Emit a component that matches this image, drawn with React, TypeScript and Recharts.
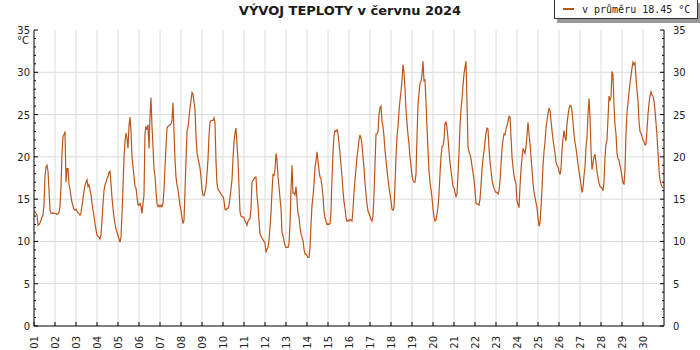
import React from 'react';
import { LineChart, Line, XAxis, YAxis, CartesianGrid, Legend } from 'recharts';

// Temperature readings per day (evenly spaced through each day), °C
const day01 = [13.5, 13.5, 13.3, 13.1, 11.9, 12.0, 12.2, 12.5, 12.9, 13.1, 14.3, 17.7, 18.8, 19.0, 18.3, 16.1, 13.7, 13.3, 13.3, 13.4, 13.3];
const day02 = [13.3, 13.3, 13.2, 13.3, 13.4, 14.2, 16.5, 20.4, 22.4, 22.6, 23.0, 17.0, 18.6, 18.6, 16.7, 16.2, 15.3, 14.6, 14.2, 13.8, 13.7];
const day03 = [13.8, 13.6, 13.4, 13.3, 13.1, 13.4, 14.2, 15.1, 15.9, 16.6, 17.0, 17.3, 16.5, 16.7, 16.1, 15.5, 14.5, 13.7, 13.0, 12.1, 11.4];
const day04 = [10.7, 10.6, 10.5, 10.3, 10.8, 12.5, 14.4, 16.0, 16.7, 17.0, 17.4, 17.7, 18.2, 18.3, 16.8, 15.2, 13.9, 12.8, 12.1, 11.5, 11.1];
const day05 = [10.7, 10.3, 9.9, 10.5, 13.3, 16.5, 19.8, 21.8, 22.8, 22.2, 21.0, 23.6, 24.7, 23.0, 20.0, 18.8, 17.7, 16.5, 16.3, 15.3, 14.3];
const day06 = [14.3, 14.5, 14.1, 13.3, 14.5, 15.5, 22.8, 23.6, 23.2, 23.8, 21.0, 24.8, 27.0, 23.6, 21.2, 18.5, 17.7, 16.0, 14.4, 14.1, 14.3];
const day07 = [14.1, 14.3, 14.1, 14.5, 16.1, 18.8, 21.2, 23.4, 23.6, 23.7, 23.8, 23.9, 24.3, 26.4, 23.0, 19.6, 17.6, 16.7, 16.1, 15.2, 14.2];
const day08 = [13.7, 12.8, 12.1, 12.5, 16.0, 19.6, 23.0, 23.5, 24.6, 25.8, 26.6, 27.6, 27.4, 26.5, 25.5, 22.5, 20.5, 19.8, 19.3, 18.7, 17.6];
const day09 = [16.2, 15.5, 15.4, 15.8, 16.5, 18.0, 19.7, 22.5, 24.1, 24.3, 24.3, 24.3, 24.6, 24.0, 19.5, 16.8, 16.2, 16.0, 15.8, 15.6, 15.4];
const day10 = [15.3, 14.8, 13.8, 13.7, 13.9, 13.9, 14.3, 15.2, 16.2, 17.3, 19.8, 21.8, 22.8, 23.4, 21.5, 19.6, 16.5, 13.5, 13.0, 12.9, 12.9];
const day11 = [12.8, 12.4, 12.2, 11.9, 12.4, 12.6, 12.7, 13.9, 17.0, 17.2, 17.4, 17.6, 17.6, 15.4, 14.3, 12.4, 10.9, 10.6, 10.4, 10.2, 10.0];
const day12 = [9.8, 8.7, 9.1, 9.3, 10.1, 11.7, 13.3, 15.9, 17.9, 17.8, 18.5, 20.4, 19.6, 17.7, 16.5, 15.1, 13.9, 11.1, 10.7, 10.1, 9.5];
const day13 = [9.3, 9.3, 9.3, 9.7, 12.1, 16.1, 19.0, 15.7, 15.7, 15.5, 16.5, 14.9, 13.3, 12.9, 11.7, 10.9, 10.5, 10.1, 9.1, 8.5, 8.5];
const day14 = [8.3, 8.1, 8.1, 9.3, 12.0, 14.3, 15.3, 16.8, 18.7, 19.5, 20.6, 19.5, 18.4, 17.6, 17.4, 16.5, 15.4, 13.5, 12.8, 12.4, 12.0];
const day15 = [12.1, 12.0, 12.1, 13.5, 17.5, 20.5, 22.5, 23.1, 23.0, 23.2, 22.8, 21.6, 20.4, 19.0, 17.7, 16.0, 14.7, 13.9, 12.8, 12.4, 12.5];
const day16 = [12.4, 12.6, 12.5, 12.4, 13.8, 15.8, 17.3, 18.6, 20.0, 20.9, 22.0, 22.6, 22.2, 21.4, 20.0, 18.7, 16.9, 15.6, 14.4, 13.6, 13.3];
const day17 = [13.0, 12.6, 12.4, 13.0, 15.5, 19.2, 22.7, 22.7, 23.0, 25.0, 25.8, 26.0, 24.2, 23.6, 22.4, 20.8, 19.6, 18.4, 17.4, 16.4, 15.6];
const day18 = [14.8, 13.8, 13.7, 14.0, 16.8, 20.0, 22.4, 23.6, 25.4, 26.7, 27.7, 29.1, 30.9, 30.0, 28.0, 25.6, 24.0, 22.6, 21.5, 20.0, 18.9];
const day19 = [17.8, 17.2, 17.0, 17.0, 18.0, 22.4, 26.2, 27.5, 28.7, 28.9, 29.7, 31.3, 29.0, 29.1, 26.5, 23.5, 20.8, 18.3, 17.0, 16.1, 15.2];
const day20 = [13.8, 12.9, 12.4, 12.5, 13.2, 14.1, 15.6, 18.0, 20.0, 21.2, 21.3, 22.0, 24.0, 24.1, 23.4, 22.2, 20.7, 19.3, 18.4, 17.4, 16.5];
const day21 = [16.3, 15.8, 15.3, 15.6, 17.9, 20.4, 23.6, 25.6, 26.8, 28.4, 29.8, 30.6, 31.3, 26.5, 21.2, 20.6, 20.3, 19.8, 18.9, 18.1, 17.3];
const day22 = [16.0, 14.5, 14.4, 14.4, 14.3, 15.0, 16.6, 18.5, 19.8, 20.6, 21.8, 22.8, 23.4, 23.3, 21.0, 19.5, 18.4, 17.3, 16.7, 16.3, 16.0];
const day23 = [15.8, 15.8, 15.6, 16.0, 17.2, 19.0, 21.0, 22.0, 22.7, 22.6, 23.3, 23.7, 24.2, 24.8, 24.7, 22.4, 20.0, 18.8, 17.8, 17.2, 16.8];
const day24 = [14.8, 14.4, 14.0, 16.5, 18.5, 19.8, 21.0, 20.7, 20.4, 21.2, 22.5, 24.1, 22.7, 21.6, 20.0, 18.5, 16.9, 15.8, 15.2, 14.6, 14.0];
const day25 = [12.8, 11.8, 12.2, 14.0, 16.2, 19.0, 20.6, 21.7, 23.5, 24.3, 25.1, 25.7, 25.5, 24.3, 23.1, 22.1, 21.2, 20.4, 19.4, 19.0, 18.8];
const day26 = [18.3, 17.9, 18.6, 20.8, 22.1, 23.1, 22.4, 21.9, 23.9, 24.9, 25.7, 26.1, 26.0, 25.4, 24.1, 22.7, 21.7, 21.0, 20.1, 19.1, 18.3];
const day27 = [17.5, 16.7, 15.8, 16.4, 17.8, 18.8, 21.2, 22.3, 25.0, 26.9, 24.8, 20.8, 18.5, 19.2, 20.0, 20.3, 19.3, 18.3, 17.5, 16.9, 16.5];
const day28 = [16.4, 16.3, 16.0, 17.0, 20.0, 21.5, 22.0, 24.5, 27.2, 26.7, 27.0, 30.1, 29.7, 26.2, 23.7, 22.7, 20.4, 19.8, 19.6, 19.0, 18.4];
const day29 = [17.6, 16.9, 16.8, 18.5, 22.8, 25.2, 26.4, 27.6, 28.7, 29.6, 30.5, 31.2, 30.9, 31.1, 29.3, 27.9, 26.7, 24.2, 23.0, 22.8, 22.4];
const day30 = [22.0, 21.8, 21.4, 21.5, 23.2, 25.0, 26.3, 27.2, 27.7, 27.3, 27.2, 26.6, 25.5, 24.0, 22.5, 20.5, 18.4, 17.3, 16.8, 16.5, 16.3];

const days = [
  day01, day02, day03, day04, day05, day06, day07, day08, day09, day10,
  day11, day12, day13, day14, day15, day16, day17, day18, day19, day20,
  day21, day22, day23, day24, day25, day26, day27, day28, day29, day30,
];

const dayLabels = ['01', '02', '03', '04', '05', '06', '07', '08', '09', '10', '11', '12', '13', '14', '15', '16', '17', '18', '19', '20', '21', '22', '23', '24', '25', '26', '27', '28', '29', '30'];
const yTicks = [0, 1, 2, 3, 4, 5, 6, 7, 8, 9, 10, 11, 12, 13, 14, 15, 16, 17, 18, 19, 20, 21, 22, 23, 24, 25, 26, 27, 28, 29, 30, 31, 32, 33, 34, 35];
const yGrid = [5, 10, 15, 20, 25, 30];
const yMax = 35;
const labelStep = 5;
const unit = '°C';
const avgTemp = 18.45;
const title = 'VÝVOJ TEPLOTY v červnu 2024';

const data = days.flatMap((vals, d) => vals.map((v, k) => ({ t: d + k / vals.length, temp: v })));
const xTicks = dayLabels.map((_, i) => i);
const xGrid = dayLabels.map((_, i) => i).filter((i) => i > 0);

const LINE_COLOR = '#bd5519';
const FONT = '"DejaVu Sans", Verdana, sans-serif';

const XTick = (props: any) => {
  const { x, y, payload } = props;
  const label = dayLabels[payload.value];
  return (
    <g>
      <line x1={x} y1={y} x2={x} y2={y - 4} stroke="#000" />
      <text
        transform={`translate(${x + 3.5},${y + 10}) rotate(-90)`}
        textAnchor="end"
        fontSize={10}
        fontFamily={FONT}
        fill="#222"
      >
        {label}
      </text>
    </g>
  );
};

const YTick = (props: any) => {
  const { x, y, payload, side } = props;
  const v = payload.value;
  const major = v % labelStep === 0;
  const len = major ? 4 : 2;
  const dir = side === 'left' ? 1 : -1;
  return (
    <g>
      <line x1={x} y1={y} x2={x + dir * len} y2={y} stroke="#000" />
      {major && (
        <text
          x={side === 'left' ? x - 4 : x + 9}
          y={y + 4}
          textAnchor={side === 'left' ? 'end' : 'start'}
          fontSize={10}
          fontFamily={FONT}
          fill="#222"
        >
          {v}
        </text>
      )}
      {side === 'left' && v === yMax && (
        <text x={x - 5} y={y + 14} textAnchor="end" fontSize={10} fontFamily={FONT} fill="#222">
          {unit}
        </text>
      )}
    </g>
  );
};

const LegendBox = (props: any) => {
  const item = props.payload && props.payload[0];
  return (
    <div
      style={{
        width: 144,
        height: 20,
        boxSizing: 'border-box',
        border: '1px solid #333',
        background: '#fff',
        boxShadow: '3px 4px 0 #999',
        display: 'flex',
        alignItems: 'center',
        font: '10px "DejaVu Sans Mono", monospace',
        color: '#222',
        whiteSpace: 'nowrap',
      }}
    >
      <span style={{ display: 'inline-block', width: 11, height: 2, background: item ? item.color : LINE_COLOR, marginLeft: 8, marginRight: 8 }} />
      <span>{item ? item.value : ''}</span>
    </div>
  );
};

export default function App() {
  return (
    <div style={{ position: 'absolute', left: 0, top: 0, width: 700, height: 350, background: '#fff' }}>
      <div
        style={{
          position: 'absolute',
          left: 0,
          top: 3,
          width: 700,
          textAlign: 'center',
          font: `bold 13px ${FONT}`,
          color: '#1a1a1a',
          lineHeight: '15px',
        }}
      >
        {title}
      </div>
      <LineChart width={700} height={350} data={data} margin={{ top: 30, right: 0, bottom: 0, left: 0 }}>
        <CartesianGrid yAxisId="l" stroke="#dcdcdc" horizontalValues={yGrid} verticalValues={xGrid} />
        <XAxis
          dataKey="t"
          type="number"
          domain={[0, dayLabels.length]}
          ticks={xTicks}
          interval={0}
          height={24}
          tickSize={0}
          tickMargin={0}
          tickLine={false}
          axisLine={{ stroke: '#000' }}
          tick={<XTick />}
          allowDataOverflow
        />
        <YAxis
          yAxisId="l"
          orientation="left"
          width={34}
          domain={[0, yMax]}
          ticks={yTicks}
          interval={0}
          tickSize={0}
          tickMargin={0}
          tickLine={false}
          axisLine={{ stroke: '#000' }}
          tick={<YTick side="left" />}
          allowDataOverflow
        />
        <YAxis
          yAxisId="r"
          orientation="right"
          width={36}
          domain={[0, yMax]}
          ticks={yTicks}
          interval={0}
          tickSize={0}
          tickMargin={0}
          tickLine={false}
          axisLine={{ stroke: '#000' }}
          tick={<YTick side="right" />}
          allowDataOverflow
        />
        <Legend
          layout="horizontal"
          verticalAlign="middle"
          align="center"
          wrapperStyle={{ position: 'absolute', left: 554, top: -1, width: 148, height: 24 }}
          content={LegendBox}
        />
        <Line
          yAxisId="l"
          type="linear"
          dataKey="temp"
          name={`v průměru ${avgTemp.toFixed(2)} ${unit}`}
          stroke={LINE_COLOR}
          strokeWidth={1.2}
          dot={false}
          activeDot={false}
          isAnimationActive={false}
        />
      </LineChart>
    </div>
  );
}
